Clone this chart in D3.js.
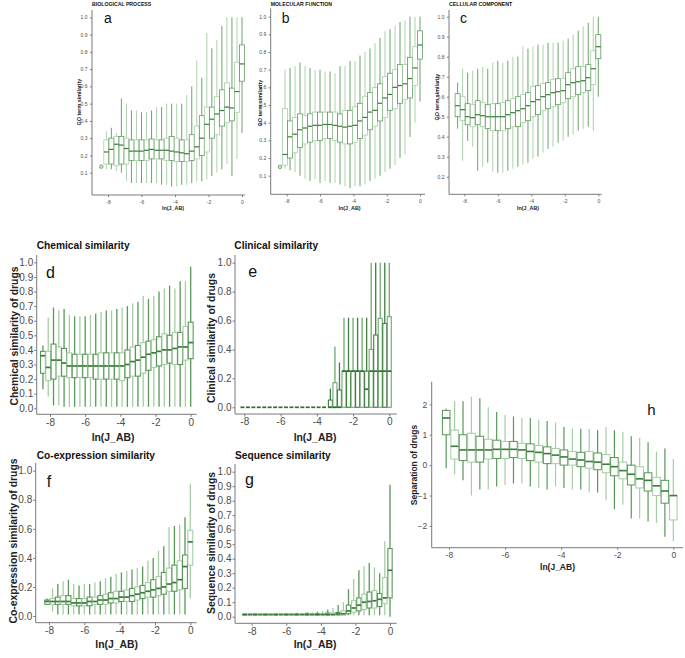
<!DOCTYPE html>
<html><head><meta charset="utf-8">
<script src="https://cdn.jsdelivr.net/npm/d3@7"></script>
<style>
body{margin:0;background:#fff}
svg{display:block}
text{font-family:"Liberation Sans",Arial,Helvetica,sans-serif}
</style>
</head><body>
<svg id="chart" width="685" height="658"></svg>
<script>
// ---------- DATA: rows are [ln(J_AB), lowerWhisker, Q1, median, Q3, upperWhisker] ----------
const bioProcess = [
[-8.4,.135,.135,.135,.135,.135],[-8.1,.12,.15,.22,.29,.34],[-7.8,.12,.15,.235,.30,.36],[-7.5,.11,.14,.265,.31,.33],
[-7.2,.10,.15,.26,.31,.53],[-6.9,.05,.15,.24,.30,.50],[-6.6,.04,.17,.225,.29,.46],[-6.3,.04,.17,.225,.29,.46],
[-6.0,.04,.17,.225,.29,.45],[-5.7,.04,.17,.23,.29,.45],[-5.4,.04,.18,.235,.295,.46],[-5.1,.04,.18,.23,.29,.48],
[-4.8,.03,.18,.23,.29,.48],[-4.5,.03,.17,.23,.30,.50],[-4.2,.02,.17,.225,.31,.50],[-3.9,.02,.165,.22,.30,.50],
[-3.6,.03,.165,.215,.29,.50],[-3.3,.03,.165,.21,.29,.55],[-3.0,.04,.17,.225,.32,.60],[-2.7,.05,.18,.25,.37,.75],
[-2.4,.05,.20,.30,.43,.65],[-2.1,.06,.22,.38,.48,.91],[-1.8,.08,.30,.41,.48,.82],[-1.5,.10,.32,.44,.54,.87],
[-1.2,.12,.37,.46,.58,.95],[-0.9,.15,.39,.48,.62,1.0],[-0.6,.08,.40,.475,.59,1.0],[-0.3,.18,.45,.57,.74,1.0],
[0,.33,.63,.73,.84,1.0]];
const molFunction = [
[-8.4,.15,.15,.15,.15,.15],[-8.1,.14,.16,.22,.48,.70],[-7.8,.13,.20,.32,.41,.71],[-7.5,.12,.23,.335,.43,.72],
[-7.2,.10,.26,.36,.45,.74],[-6.9,.08,.28,.37,.44,.72],[-6.6,.07,.29,.38,.45,.71],[-6.3,.08,.30,.385,.46,.70],
[-6.0,.06,.30,.385,.46,.70],[-5.7,.07,.31,.39,.46,.69],[-5.4,.06,.31,.39,.46,.69],[-5.1,.06,.30,.385,.46,.68],
[-4.8,.05,.29,.38,.45,.72],[-4.5,.04,.28,.375,.47,.72],[-4.2,.03,.28,.38,.47,.75],[-3.9,.04,.29,.385,.49,.75],
[-3.6,.04,.31,.41,.51,.78],[-3.3,.05,.33,.43,.55,.80],[-3.0,.07,.36,.46,.57,.82],[-2.7,.08,.38,.47,.60,.85],
[-2.4,.10,.41,.51,.62,.88],[-2.1,.12,.43,.54,.66,.92],[-1.8,.14,.47,.56,.68,.93],[-1.5,.16,.48,.60,.70,.95],
[-1.2,.20,.51,.61,.73,.97],[-0.9,.22,.53,.62,.73,.98],[-0.6,.32,.54,.65,.77,1.0],[-0.3,.40,.61,.71,.83,1.0],
[0,.52,.76,.84,.92,1.0]];
const cellComponent = [
[-8.4,.44,.50,.555,.615,.67],[-8.1,.28,.48,.535,.60,.74],[-7.8,.38,.46,.50,.565,.72],[-7.5,.35,.45,.495,.56,.73],
[-7.2,.23,.46,.51,.58,.74],[-6.9,.25,.45,.505,.57,.75],[-6.6,.27,.44,.50,.56,.74],[-6.3,.225,.43,.50,.565,.77],
[-6.0,.22,.43,.50,.565,.78],[-5.7,.22,.43,.50,.57,.77],[-5.4,.23,.44,.51,.58,.78],[-5.1,.24,.45,.52,.59,.80],
[-4.8,.25,.45,.53,.60,.80],[-4.5,.26,.47,.54,.61,.85],[-4.2,.27,.48,.555,.62,.84],[-3.9,.29,.50,.575,.65,.85],
[-3.6,.30,.51,.585,.655,.86],[-3.3,.32,.53,.60,.665,.86],[-3.0,.34,.54,.61,.67,.87],[-2.7,.35,.55,.62,.685,.87],
[-2.4,.37,.56,.625,.69,.87],[-2.1,.38,.57,.63,.69,.88],[-1.8,.40,.59,.66,.72,.89],[-1.5,.41,.60,.67,.74,.91],
[-1.2,.43,.61,.675,.75,.93],[-0.9,.44,.62,.68,.75,.95],[-0.6,.45,.63,.695,.76,.97],[-0.3,.43,.66,.74,.83,1.0],
[0,.60,.79,.85,.91,1.0]];
const chemical = [
[-8.4,.13,.24,.36,.39,.43],[-8.1,.08,.19,.28,.39,.62],[-7.8,.02,.20,.33,.44,.69],[-7.5,.02,.22,.33,.42,.67],
[-7.2,.01,.22,.31,.41,.68],[-6.9,.01,.21,.29,.38,.64],[-6.6,.01,.21,.29,.37,.63],[-6.3,.01,.21,.29,.37,.63],
[-6.0,.01,.21,.29,.37,.63],[-5.7,.01,.21,.29,.37,.64],[-5.4,.01,.20,.29,.37,.65],[-5.1,.01,.20,.29,.38,.66],
[-4.8,.01,.20,.29,.38,.67],[-4.5,.01,.20,.29,.38,.67],[-4.2,.01,.20,.29,.38,.68],[-3.9,.01,.19,.29,.38,.69],
[-3.6,.01,.21,.30,.40,.70],[-3.3,.01,.22,.32,.42,.72],[-3.0,.01,.22,.33,.43,.73],[-2.7,.01,.24,.35,.45,.77],
[-2.4,.01,.26,.37,.46,.75],[-2.1,.01,.28,.38,.47,.77],[-1.8,.01,.29,.39,.49,.80],[-1.5,.01,.30,.40,.51,.82],
[-1.2,.01,.31,.40,.50,.84],[-0.9,.01,.30,.41,.52,.82],[-0.6,.01,.30,.42,.52,.87],[-0.3,.01,.33,.42,.56,.87],
[0,.01,.34,.45,.59,.97]];
const clinical = [
[-8.1,0,0,0,0,0],[-7.8,0,0,0,0,0],[-7.5,0,0,0,0,0],[-7.2,0,0,0,0,0],[-6.9,0,0,0,0,0],[-6.6,0,0,0,0,0],
[-6.3,0,0,0,0,0],[-6.0,0,0,0,0,0],[-5.7,0,0,0,0,0],[-5.4,0,0,0,0,0],[-5.1,0,0,0,0,0],[-4.8,0,0,0,0,0],
[-4.5,0,0,0,0,0],[-4.2,0,0,0,0,0],[-3.9,0,0,0,0,0],[-3.6,0,0,0,0,0],
[-3.25,0,0,0,.05,.13],[-3.0,0,0,0,.17,.42],[-2.75,0,0,0,.12,.31],[-2.5,0,0,.25,.25,.62],[-2.25,0,0,.25,.25,.62],
[-2.0,0,0,.25,.25,.62],[-1.75,0,0,.25,.25,.62],[-1.5,0,0,.25,.25,.62],[-1.25,0,0,.125,.25,.62],
[-1.0,0,0,.25,.40,1.0],[-0.75,0,0,.25,.50,1.0],[-0.5,0,0,.25,.615,1.0],[-0.25,0,0,.25,.58,1.0],[0,0,0,.25,.627,1.0]];
const coexpression = [
[-8.1,.08,.08,.10,.11,.12],[-7.8,.03,.08,.10,.12,.19],[-7.5,.01,.08,.10,.13,.22],[-7.2,.01,.08,.10,.14,.24],
[-6.9,.01,.08,.10,.14,.25],[-6.6,.01,.07,.09,.12,.22],[-6.3,.01,.07,.09,.12,.21],[-6.0,.01,.07,.09,.12,.22],
[-5.7,.01,.07,.10,.13,.22],[-5.4,.01,.08,.10,.13,.23],[-5.1,.01,.08,.11,.14,.24],[-4.8,.01,.08,.11,.15,.26],
[-4.5,.01,.09,.12,.16,.27],[-4.2,.01,.09,.12,.17,.29],[-3.9,.01,.10,.13,.17,.30],[-3.6,.01,.10,.13,.18,.31],
[-3.3,.01,.10,.14,.19,.32],[-3.0,.01,.11,.15,.20,.33],[-2.7,.01,.12,.16,.21,.34],[-2.4,.01,.13,.17,.23,.38],
[-2.1,.01,.13,.18,.25,.40],[-1.8,.01,.14,.19,.27,.45],[-1.5,.01,.15,.20,.30,.48],[-1.2,.01,.17,.22,.33,.61],
[-0.9,.01,.17,.23,.35,.62],[-0.6,.01,.18,.25,.38,.63],[-0.3,.01,.19,.34,.42,.68],[0,.12,.35,.51,.59,.91]];
const sequence = [
[-8.4,.01,.012,.015,.018,.02],[-8.1,.01,.012,.015,.018,.02],[-7.8,.01,.012,.015,.018,.02],[-7.5,.01,.012,.015,.018,.02],
[-7.2,.01,.012,.015,.018,.02],[-6.9,.01,.012,.015,.018,.02],[-6.6,.01,.012,.015,.018,.02],[-6.3,.01,.012,.015,.018,.022],
[-6.0,.01,.012,.015,.018,.022],[-5.7,.01,.012,.015,.018,.024],[-5.4,.01,.012,.015,.018,.025],[-5.1,.01,.012,.015,.018,.026],
[-4.8,.01,.012,.015,.02,.03],[-4.5,.01,.012,.015,.02,.03],[-4.2,.01,.012,.015,.02,.035],[-3.9,.01,.012,.015,.02,.04],
[-3.6,.01,.012,.015,.025,.05],[-3.3,.01,.012,.015,.025,.06],[-3.0,.01,.012,.02,.03,.08],[-2.7,.01,.01,.02,.04,.10],
[-2.4,.01,.02,.04,.08,.19],[-2.1,.01,.03,.06,.11,.26],[-1.8,.01,.04,.08,.13,.32],[-1.5,.01,.05,.10,.155,.35],
[-1.2,.01,.06,.105,.17,.37],[-0.9,.01,.06,.11,.18,.34],[-0.6,.01,.07,.12,.16,.30],[-0.3,.01,.09,.13,.27,.52],
[0,0,.13,.32,.47,.91]];
const separation = [
[-8.1,-0.1,1.0,1.55,1.8,1.85],[-7.8,-0.3,0.2,0.62,1.15,2.1],[-7.5,-0.5,0.15,0.5,1.0,2.1],[-7.2,-1.0,0.1,0.5,1.05,2.25],
[-6.9,-0.8,0.1,0.5,0.95,2.2],[-6.6,-0.8,0.2,0.5,0.85,1.9],[-6.3,-0.7,0.22,0.52,0.82,1.75],[-6.0,-0.65,0.22,0.52,0.78,1.65],
[-5.7,-0.6,0.25,0.52,0.78,1.6],[-5.4,-0.6,0.22,0.5,0.72,1.55],[-5.1,-0.7,0.15,0.45,0.7,1.55],[-4.8,-0.75,0.1,0.42,0.65,1.5],
[-4.5,-0.8,0.05,0.38,0.6,1.45],[-4.2,-0.7,0.05,0.33,0.55,1.4],[-3.9,-0.75,0.0,0.27,0.5,1.25],[-3.6,-0.8,0.0,0.2,0.45,1.2],
[-3.3,-0.8,-0.05,0.17,0.42,1.2],[-3.0,-0.9,-0.1,0.12,0.45,1.2],[-2.7,-0.9,-0.15,0.1,0.4,1.15],[-2.4,-1.15,-0.25,0.03,0.35,1.25],
[-2.1,-1.45,-0.35,-0.05,0.25,1.15],[-1.8,-1.3,-0.45,-0.18,0.1,1.1],[-1.5,-1.75,-0.65,-0.3,0.0,0.95],[-1.2,-1.75,-0.75,-0.45,-0.05,0.9],
[-0.9,-1.85,-0.85,-0.5,-0.25,0.75],[-0.6,-1.9,-1.0,-0.68,-0.4,0.45],[-0.3,-2.35,-1.25,-0.85,-0.5,0.55],[0,-2.5,-1.8,-1.0,-1.0,0.2]];

// tick values
const xTickValues = [-8,-6,-4,-2,0];
const goTicksAB = [0.1,0.2,0.3,0.4,0.5,0.6,0.7,0.8,0.9,1.0];
const goTicksC = [0.2,0.3,0.4,0.5,0.6,0.7,0.8,0.9,1.0];
const tenthTicks = [0,0.1,0.2,0.3,0.4,0.5,0.6,0.7,0.8,0.9,1.0];
const fifthTicks = [0,0.2,0.4,0.6,0.8,1.0];
const sepTicks = [-2,-1,0,1,2];

// ---------- LAYOUT ----------
const small = {tickFont:5, labFont:5.4, titleFont:5.2, letterFont:14, tick:2, padX:3.4, padY:2.5, wLine:0.9, medW:1.2};
const big = {tickFont:10, labFont:10.4, titleFont:10.2, letterFont:16, tick:2.5, padX:1.8, padY:1, wLine:1.3, medW:1.7};
const mid = {tickFont:8.5, labFont:8.5, letterFont:15, tick:2, padX:2, padY:2.5, wLine:1.2, medW:1.6};

const panels = [
 Object.assign({}, small, {data:bioProcess, left:92, bottom:195, top:10, right:245, xPx:[108,242], yRef:[0.1,172.7,1.0,17.3],
   yTicks:goTicksAB, fmt:".1f", title:"BIOLOGICAL PROCESS", titleX:92, titleY:5.7, ylab:"GO term similarity", ylabX:80.5, ylabY:102,
   xlabX:173, xlabY:210, letter:"a", letX:104, letY:23.3, boxW:0.3, dot:true}),
 Object.assign({}, small, {data:molFunction, left:270.7, bottom:194.3, top:8.3, right:425, xPx:[286.7,420], yRef:[0.1,175.7,1.0,16.7],
   yTicks:goTicksAB, fmt:".1f", title:"MOLECULAR FUNCTION", titleX:270.7, titleY:5.7, ylab:"GO term similarity", ylabX:261.5, ylabY:103,
   xlabX:349.5, xlabY:210, letter:"b", letX:281.7, letY:23.3, boxW:0.3, dot:true}),
 Object.assign({}, small, {data:cellComponent, left:449, bottom:194.3, top:10, right:601.7, xPx:[464.3,598.3], yRef:[0.2,176.7,1.0,16.7],
   yTicks:goTicksC, fmt:".1f", title:"CELLULAR COMPONENT", titleX:449, titleY:5.7, ylab:"GO term similarity", ylabX:439, ylabY:97,
   xlabX:528, xlabY:210, letter:"c", letX:460, letY:22.7, boxW:0.3}),
 Object.assign({}, big, {data:chemical, left:36.7, bottom:414.3, top:255, right:196.7, xPx:[50,190.7], yRef:[0,408.3,1.0,262.3],
   yTicks:tenthTicks, fmt:".1f", title:"Chemical similarity", titleX:36.7, titleY:248.5, ylab:"Chemical similarity of drugs", ylabX:17.5, ylabY:336,
   xlabX:113, xlabY:441, letter:"d", letX:46, letY:278, boxW:0.28}),
 Object.assign({}, big, {data:clinical, left:235, bottom:414, top:255, right:396.7, xPx:[244.3,389.3], yRef:[0,407.3,1.0,262.7],
   yTicks:fifthTicks, fmt:".1f", title:"Clinical similarity", titleX:234.3, titleY:248.5, ylab:"Clinical similarity of drugs", ylabX:214.5, ylabY:338,
   xlabX:315, xlabY:441, letter:"e", letX:248.3, letY:277, boxW:0.22, dark:true}),
 Object.assign({}, big, {data:coexpression, left:35.7, bottom:622.7, top:463, right:196.7, xPx:[49,190.3], yRef:[0,616,1.0,470.7],
   yTicks:fifthTicks, fmt:".1f", title:"Co-expression similarity", titleX:36.7, titleY:459, ylab:"Co-expression similarity of drugs", ylabX:17, ylabY:541,
   xlabX:116.7, xlabY:647.5, letter:"f", letX:46.7, letY:487.3, boxW:0.28}),
 Object.assign({}, big, {data:sequence, left:235, bottom:623.3, top:464, right:396.7, xPx:[251.7,390], yRef:[0,616.7,1.0,471.7],
   yTicks:tenthTicks, fmt:".1f", title:"Sequence similarity", titleX:235, titleY:459, ylab:"Sequence similarity of drugs", ylabX:214.5, ylabY:543,
   xlabX:315, xlabY:647.5, letter:"g", letX:245, letY:485, boxW:0.25}),
 Object.assign({}, mid, {data:separation, left:431.7, bottom:547.7, top:381.7, right:683, xPx:[449,673.3], yRef:[-2,526,2,404.3],
   yTicks:sepTicks, fmt:"d", title:null, ylab:"Separation of drugs", ylabX:417, ylabY:465,
   xlabX:557.5, xlabY:569.5, letter:"h", letX:647.3, letY:415, boxW:0.27})
];

const svg = d3.select("#chart");
const axisCol = "#7a7a7a", tickTextCol = "#4d4d4d";

function drawPanel(p) {
  const g = svg.append("g");
  const x = d3.scaleLinear().domain([-8, 0]).range(p.xPx);
  const y = d3.scaleLinear().domain([p.yRef[0], p.yRef[2]]).range([p.yRef[1], p.yRef[3]]);
  const xa = g.append("g").attr("transform", `translate(0,${p.bottom})`)
    .call(d3.axisBottom(x).tickValues(xTickValues).tickFormat(d => String(d)).tickSize(p.tick).tickPadding(p.padX));
  const ya = g.append("g").attr("transform", `translate(${p.left},0)`)
    .call(d3.axisLeft(y).tickValues(p.yTicks).tickFormat(d3.format(p.fmt)).tickSize(p.tick).tickPadding(p.padY));
  [xa, ya].forEach(a => {
    a.select(".domain").remove();
    a.selectAll("line").attr("stroke", axisCol);
    a.selectAll("text").attr("fill", tickTextCol).style("font-size", p.tickFont + "px").attr("font-family", null);
  });
  g.append("line").attr("x1", p.left).attr("x2", p.right).attr("y1", p.bottom).attr("y2", p.bottom)
    .attr("stroke", axisCol).attr("stroke-width", 1);
  g.append("line").attr("x1", p.left).attr("x2", p.left).attr("y1", p.top).attr("y2", p.bottom)
    .attr("stroke", axisCol).attr("stroke-width", 1);

  const unit = (p.xPx[1] - p.xPx[0]) / 8;
  const hw = p.boxW * unit / 2;
  const darkC = p.dark ? "#3f7f3f" : "#5a985a";
  const lightC = p.dark ? "#72a872" : "#a6cda6";
  const medC = p.dark ? "#2f6f2f" : "#3a7a3a";
  const marks = g.append("g");
  p.data.forEach((r, i) => {
    const [xv, lo, q1, md, q3, hi] = r;
    const cx = x(xv);
    const col = i % 2 === 0 ? darkC : lightC;
    if (p.dot && lo === hi) {
      marks.append("circle").attr("cx", cx).attr("cy", y(md)).attr("r", 1.8)
        .attr("fill", "#cfe5cf").attr("stroke", darkC).attr("stroke-width", 0.8);
      return;
    }
    if (hi > q3) marks.append("line").attr("x1", cx).attr("x2", cx).attr("y1", y(q3)).attr("y2", y(hi))
      .attr("stroke", col).attr("stroke-width", p.wLine);
    if (lo < q1) marks.append("line").attr("x1", cx).attr("x2", cx).attr("y1", y(q1)).attr("y2", y(lo))
      .attr("stroke", col).attr("stroke-width", p.wLine);
    if (q3 > q1) marks.append("rect").attr("x", cx - hw).attr("y", y(q3)).attr("width", hw * 2)
      .attr("height", y(q1) - y(q3)).attr("fill", "none").attr("stroke", col).attr("stroke-width", p.wLine * 0.85);
    marks.append("line").attr("x1", cx - hw).attr("x2", cx + hw).attr("y1", y(md)).attr("y2", y(md))
      .attr("stroke", medC).attr("stroke-width", p.medW);
  });

  if (p.title) g.append("text").attr("x", p.titleX).attr("y", p.titleY).text(p.title)
    .style("font-size", p.titleFont + "px").style("font-weight", "bold").attr("fill", "#111");
  g.append("text").attr("transform", `translate(${p.ylabX},${p.ylabY}) rotate(-90)`).attr("text-anchor", "middle")
    .text(p.ylab).style("font-size", p.labFont + "px").style("font-weight", "bold").attr("fill", "#222");
  g.append("text").attr("x", p.xlabX).attr("y", p.xlabY).attr("text-anchor", "middle")
    .text("ln(J_AB)").style("font-size", p.labFont + "px").style("font-weight", "bold").attr("fill", "#222");
  g.append("text").attr("x", p.letX).attr("y", p.letY).text(p.letter)
    .style("font-size", p.letterFont + "px").attr("fill", "#111");
}
panels.forEach(drawPanel);
</script>
</body></html>
